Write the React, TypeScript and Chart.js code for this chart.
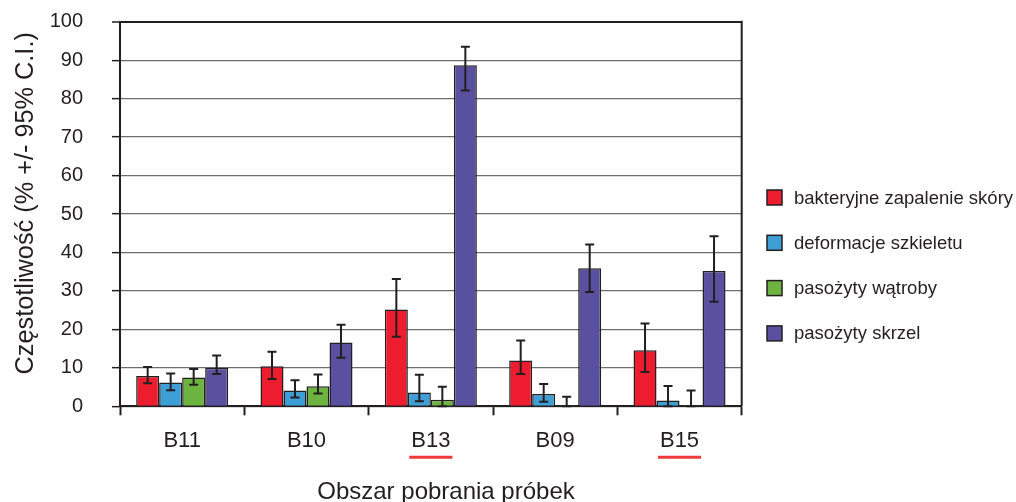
import React, { useEffect, useRef } from 'react';
import { Chart, registerables } from 'chart.js';

Chart.register(...registerables);

// ---- data ----
const categories = ['B11', 'B10', 'B13', 'B09', 'B15'];
const underlinedCategories = ['B13', 'B15'];
const seriesNames = ['bakteryjne zapalenie skóry', 'deformacje szkieletu', 'pasożyty wątroby', 'pasożyty skrzel'];

const skinValues = [7.9, 10.4, 25.2, 11.9, 14.6];
const skinLow = [6.0, 7.1, 18.1, 8.4, 8.9];
const skinHigh = [10.2, 14.2, 33.1, 17.1, 21.5];

const skeletonValues = [6.2, 4.1, 3.6, 3.2, 1.5];
const skeletonLow = [4.2, 2.3, 1.3, 1.2, 0.0];
const skeletonHigh = [8.5, 6.8, 8.2, 5.8, 5.3];

const liverValues = [7.5, 5.2, 1.7, 0.3, 0.3];
const liverLow = [5.6, 3.3, 0.0, 0.0, 0.0];
const liverHigh = [9.7, 8.3, 5.1, 2.5, 4.1];

const gillValues = [10.0, 16.6, 88.7, 35.9, 35.2];
const gillLow = [8.4, 12.6, 82.1, 29.7, 27.2];
const gillHigh = [13.2, 21.2, 93.5, 42.1, 44.2];

const yMin = 0;
const yMax = 100;
const yStep = 10;

const xTitle = 'Obszar pobrania próbek';
const yTitle = 'Częstotliwość (% +/- 95% C.I.)';

// ---- style ----
const W = 1016;
const H = 502;
const FONT = '"Liberation Sans", Arial, sans-serif';
const TEXT = '#231f20';
const DARK = '#231f20';
const GRID = '#6d6e71';
const COLORS = ['#ed1c2e', '#3e9fd6', '#6cb33f', '#5a50a0'];

const lows = [skinLow, skeletonLow, liverLow, gillLow];
const highs = [skinHigh, skeletonHigh, liverHigh, gillHigh];

const errorBarPlugin = {
  id: 'errorBars',
  afterDatasetsDraw(chart: any) {
    const ctx = chart.ctx;
    const y = chart.scales.y;
    ctx.save();
    ctx.strokeStyle = DARK;
    ctx.lineWidth = 2;
    chart.data.datasets.forEach((ds: any, d: number) => {
      const meta = chart.getDatasetMeta(d);
      meta.data.forEach((bar: any, i: number) => {
        const x = bar.x;
        const yl = y.getPixelForValue(lows[d][i]);
        const yh = y.getPixelForValue(highs[d][i]);
        const cap = 4.5;
        ctx.beginPath();
        ctx.moveTo(x, yl);
        ctx.lineTo(x, yh);
        ctx.moveTo(x - cap, yl);
        ctx.lineTo(x + cap, yl);
        ctx.moveTo(x - cap, yh);
        ctx.lineTo(x + cap, yh);
        ctx.stroke();
      });
    });
    ctx.restore();
  },
};

const decorPlugin = {
  id: 'decor',
  afterDraw(chart: any) {
    const ctx = chart.ctx;
    const a = chart.chartArea;
    const xs = chart.scales.x;
    ctx.save();
    // right frame
    ctx.strokeStyle = DARK;
    ctx.lineWidth = 2;
    ctx.beginPath();
    ctx.moveTo(a.right, a.top - 1);
    ctx.lineTo(a.right, a.bottom);
    ctx.stroke();

    // underlines
    ctx.font = '22px ' + FONT;
    ctx.strokeStyle = '#ef3a3a';
    ctx.lineWidth = 3;
    underlinedCategories.forEach((c) => {
      const idx = categories.indexOf(c);
      const cx = xs.getPixelForValue(idx);
      const w = ctx.measureText(c).width + 4;
      ctx.beginPath();
      ctx.moveTo(cx - w / 2, 457.3);
      ctx.lineTo(cx + w / 2, 457.3);
      ctx.stroke();
    });

    // titles
    ctx.fillStyle = TEXT;
    ctx.font = '24px ' + FONT;
    ctx.textAlign = 'center';
    ctx.textBaseline = 'alphabetic';
    ctx.fillText(xTitle, 446, 499);
    ctx.font = '25.3px ' + FONT;
    ctx.save();
    ctx.translate(33, 203.3);
    ctx.rotate(-Math.PI / 2);
    ctx.fillText(yTitle, 0, 0);
    ctx.restore();

    // legend
    ctx.font = '18.5px ' + FONT;
    ctx.textAlign = 'left';
    ctx.textBaseline = 'middle';
    chart.data.datasets.forEach((ds: any, i: number) => {
      const cy = 197.5 + i * 45.3;
      ctx.fillStyle = ds.backgroundColor;
      ctx.fillRect(767, cy - 7.5, 15, 15);
      ctx.strokeStyle = DARK;
      ctx.lineWidth = 1.5;
      ctx.strokeRect(767, cy - 7.5, 15, 15);
      ctx.fillStyle = TEXT;
      ctx.fillText(ds.label, 794, cy + 1);
    });
    ctx.restore();
  },
};

export default function App() {
  const ref = useRef<HTMLCanvasElement | null>(null);
  useEffect(() => {
    document.body.style.margin = '0';
    if (!ref.current) return;
    const values = [skinValues, skeletonValues, liverValues, gillValues];
    const chart = new Chart(ref.current, {
      type: 'bar',
      data: {
        labels: categories,
        datasets: seriesNames.map((name, i) => ({
          label: name,
          data: values[i],
          backgroundColor: COLORS[i],
          borderColor: DARK,
          borderWidth: 1.5,
          categoryPercentage: 0.74,
          barPercentage: 1.0,
        })),
      },
      options: {
        responsive: false,
        animation: false,
        layout: { padding: { top: 21.7, right: W - 741.7, left: 8, bottom: 0 } },
        plugins: { legend: { display: false }, tooltip: { enabled: false } },
        scales: {
          x: {
            afterFit: (s: any) => { s.height = H - 406.3; },
            grid: {
              offset: true,
              drawOnChartArea: false,
              drawTicks: true,
              tickLength: 9,
              tickColor: DARK,
              tickWidth: 2,
            },
            border: { color: DARK, width: 2 },
            ticks: { color: TEXT, font: { family: FONT, size: 22 }, padding: 12 },
          },
          y: {
            min: yMin,
            max: yMax,
            afterFit: (s: any) => {
              s.width = 112;
              s.paddingTop = 10;
              s.paddingBottom = 10;
            },
            grid: {
              color: (c: any) => (c.tick && c.tick.value === yMax ? DARK : GRID),
              lineWidth: (c: any) => (c.tick && c.tick.value === yMax ? 2 : 1.3),
              drawTicks: true,
              tickLength: 8,
              tickColor: DARK,
              tickWidth: 1.5,
            },
            border: { color: DARK, width: 2 },
            ticks: { stepSize: yStep, color: TEXT, font: { family: FONT, size: 20 }, padding: 29 },
          },
        },
      },
      plugins: [errorBarPlugin, decorPlugin],
    });
    return () => chart.destroy();
  }, []);
  return (
    <div style={{ width: W, height: H }}>
      <canvas ref={ref} width={W} height={H} style={{ display: 'block' }} />
    </div>
  );
}
